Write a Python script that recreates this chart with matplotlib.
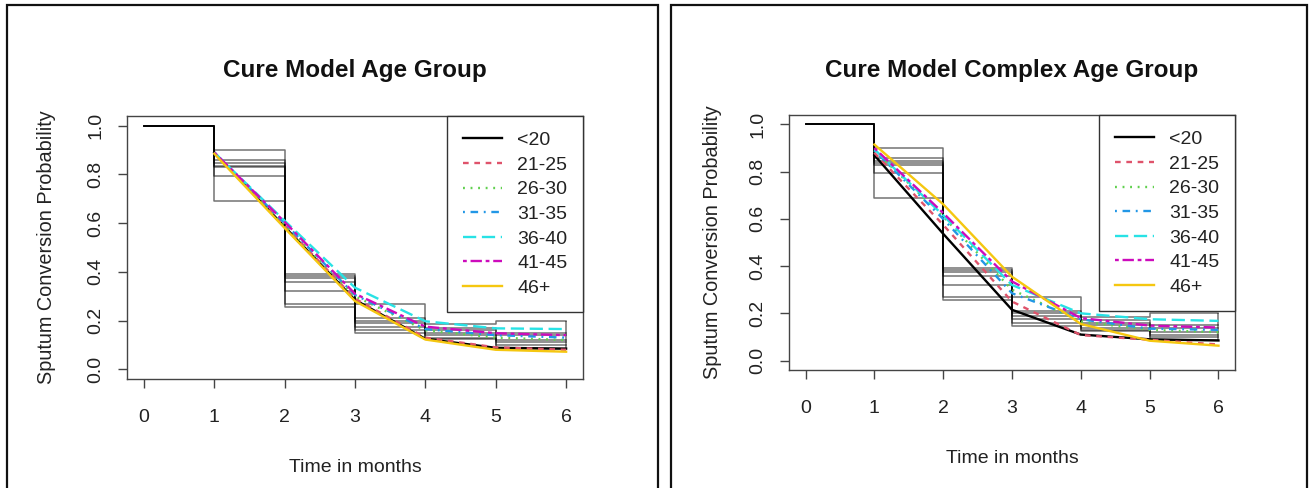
import matplotlib
matplotlib.use("Agg")
import matplotlib.pyplot as plt
from matplotlib.patches import Rectangle
import numpy as np

plt.rcParams['font.family'] = ['Liberation Sans', 'DejaVu Sans']

# ---------------- data ----------------
groups = ["<20", "21-25", "26-30", "31-35", "36-40", "41-45", "46+"]
colors = ["#000000", "#DF536B", "#61D04F", "#2297E6", "#28E2E5", "#CD0BBC", "#F5C710"]
months = [1, 2, 3, 4, 5, 6]

# observed (Kaplan-Meier style) step values per group, months 0..5 (value held until next month)
km_steps = {
    "<20":   [1.0, 0.845, 0.39, 0.21, 0.14, 0.12],
    "21-25": [1.0, 0.86, 0.36, 0.19, 0.13, 0.085],
    "26-30": [1.0, 0.835, 0.385, 0.175, 0.15, 0.14],
    "31-35": [1.0, 0.90, 0.32, 0.20, 0.16, 0.11],
    "36-40": [1.0, 0.83, 0.27, 0.27, 0.185, 0.20],
    "41-45": [1.0, 0.795, 0.375, 0.16, 0.17, 0.15],
    "46+":   [1.0, 0.69, 0.255, 0.148, 0.125, 0.10],
}
km_months = [0, 1, 2, 3, 4, 5, 6]

# cure model predictions at months 1..6
cure_age = {
    "<20":   [0.89, 0.585, 0.285, 0.125, 0.088, 0.085],
    "21-25": [0.89, 0.59, 0.29, 0.13, 0.09, 0.08],
    "26-30": [0.89, 0.595, 0.30, 0.16, 0.13, 0.12],
    "31-35": [0.89, 0.60, 0.305, 0.165, 0.14, 0.13],
    "36-40": [0.89, 0.61, 0.335, 0.197, 0.168, 0.165],
    "41-45": [0.89, 0.605, 0.31, 0.175, 0.148, 0.14],
    "46+":   [0.885, 0.58, 0.28, 0.122, 0.08, 0.072],
}
cure_complex = {
    "<20":   [0.87, 0.537, 0.215, 0.11, 0.09, 0.085],
    "21-25": [0.88, 0.575, 0.25, 0.108, 0.088, 0.068],
    "26-30": [0.89, 0.61, 0.30, 0.165, 0.13, 0.12],
    "31-35": [0.89, 0.60, 0.285, 0.175, 0.135, 0.13],
    "36-40": [0.895, 0.615, 0.32, 0.20, 0.175, 0.168],
    "41-45": [0.90, 0.625, 0.335, 0.18, 0.148, 0.14],
    "46+":   [0.915, 0.662, 0.355, 0.155, 0.084, 0.063],
}

titles = ["Cure Model Age Group", "Cure Model Complex Age Group"]
xlabel = "Time in months"
ylabel = "Sputum Conversion Probability"
xticks = [0, 1, 2, 3, 4, 5, 6]
yticks = [0.0, 0.2, 0.4, 0.6, 0.8, 1.0]
ytick_labels = ["0.0", "0.2", "0.4", "0.6", "0.8", "1.0"]

linestyles = [
    "-",
    (0, (2.4, 2.4)),
    (0, (0.8, 2.4)),
    (0, (0.8, 2.4, 3.2, 2.4)),
    (0, (5.6, 2.4)),
    (0, (1.6, 1.6, 4.8, 1.6)),
    "-",
]

W, H = 1309, 488
fig = plt.figure(figsize=(W / 100, H / 100), dpi=100)

# panel frames
fig.patches.append(Rectangle((7 / W, -0.05), (658 - 7) / W, (H - 5) / H + 0.05,
                             transform=fig.transFigure, fill=False, lw=1.6, ec="#111111"))
fig.patches.append(Rectangle((671 / W, -0.05), (1307 - 671) / W, (H - 5) / H + 0.05,
                             transform=fig.transFigure, fill=False, lw=1.6, ec="#111111"))

# axes placements in pixels: (left, right, top, bottom)
boxes = [(127, 583, 116, 379), (789, 1235, 115, 370)]
xlabel_top = [459.5, 450]
ylabel_right = [56, 722]
title_pad = [28, 27.5]
models = [cure_age, cure_complex]
txt = "#222222"

for k, (l, r, t, b) in enumerate(boxes):
    ax = fig.add_axes([l / W, (H - b) / H, (r - l) / W, (b - t) / H])
    # observed step curves
    last_vals = []
    for g in groups:
        vals = km_steps[g] + [km_steps[g][-1]]
        ax.step(km_months, vals, where="post", color="black", alpha=0.55, lw=1.1)
        last_vals.append(km_steps[g][-1])
    ax.vlines(6, min(last_vals), max(last_vals), color="black", alpha=0.55, lw=1.1)
    # model curves
    for g, c, ls in zip(groups, colors, linestyles):
        ax.plot(months, models[k][g], color=c, ls=ls, lw=1.7, label=g)

    ax.set_xlim(-0.24, 6.24)
    ax.set_ylim(-0.04, 1.04)
    ax.set_xticks(xticks)
    ax.set_yticks(yticks)
    ax.set_yticklabels(ytick_labels, rotation=90, va="center")
    ax.tick_params(direction="out", length=6.5, width=1.0, colors="#444444",
                   labelcolor=txt, labelsize=14)
    ax.tick_params(axis="x", pad=15.3)
    ax.tick_params(axis="y", pad=10)
    for s in ax.spines.values():
        s.set_color("#444444")
        s.set_linewidth(1.0)

    ax.set_title(titles[k], fontsize=17.5, fontweight="bold", color="#111111",
                 pad=title_pad[k])
    ax.set_xlabel(xlabel, fontsize=14, color=txt, va="top")
    ax.set_ylabel(ylabel, fontsize=14.3, color=txt)
    hpx = b - t
    wpx = r - l
    ax.xaxis.set_label_coords(0.5, -(xlabel_top[k] - b) / hpx)
    ax.yaxis.set_label_coords(-(l - ylabel_right[k]) / wpx, 0.5)

    leg = ax.legend(loc="upper right", bbox_to_anchor=(1, 1), borderaxespad=0,
                    fancybox=False, framealpha=1, edgecolor="#333333", fontsize=14,
                    handlelength=2.0, handletextpad=0.8, labelspacing=0.36,
                    borderpad=0.8)
    leg.get_frame().set_linewidth(1.0)
    for tx in leg.get_texts():
        tx.set_color(txt)

fig.savefig("out.png", dpi=100)
